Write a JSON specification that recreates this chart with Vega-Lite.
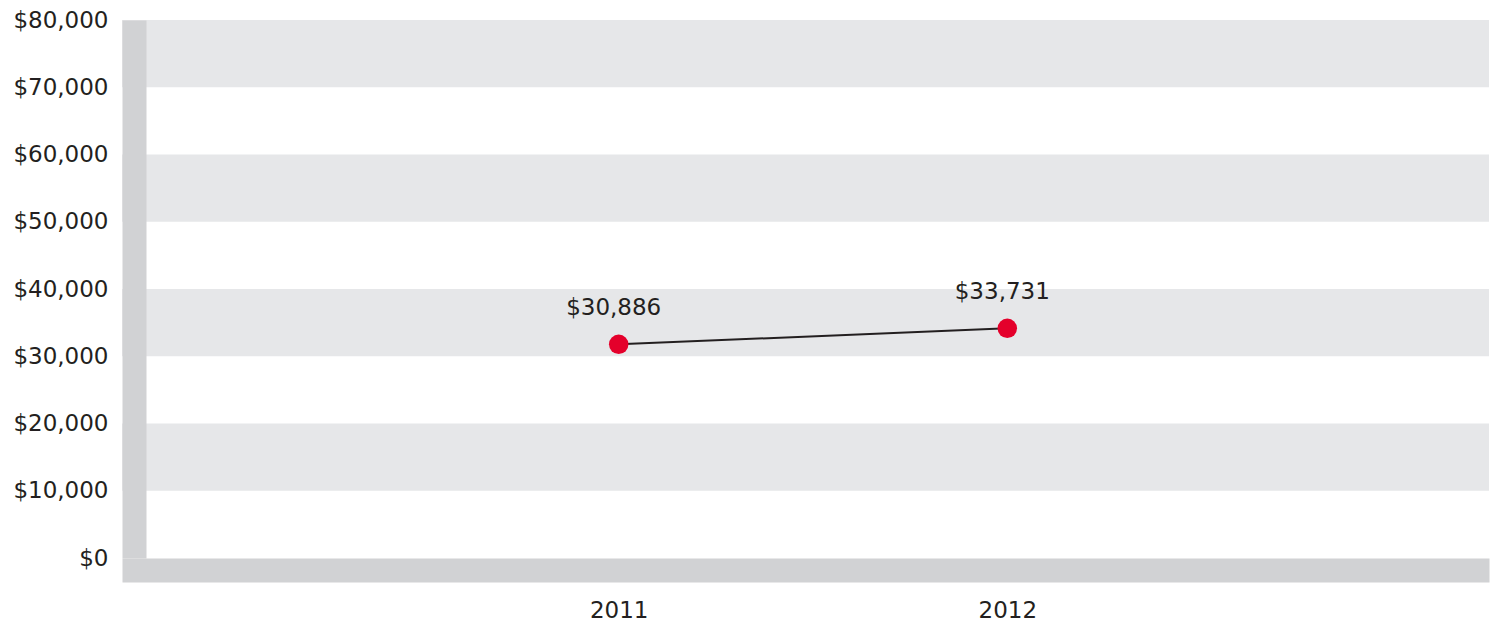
{
  "$schema": "https://vega.github.io/schema/vega-lite/v6.json",
  "width": 1367,
  "height": 538,
  "padding": {"left": 122, "top": 20, "right": 10, "bottom": 68},
  "autosize": {"type": "none"},
  "background": "#ffffff",
  "datasets": {
    "bands": [
      {"from": 10000, "to": 20000},
      {"from": 30000, "to": 40000},
      {"from": 50000, "to": 60000},
      {"from": 70000, "to": 80000}
    ],
    "income": [
      {"year": 2011, "value": 31780, "label": "$30,886"},
      {"year": 2012, "value": 34160, "label": "$33,731"}
    ]
  },
  "layer": [
    {
      "data": {"name": "bands"},
      "mark": {"type": "rect", "color": "#e6e7e9"},
      "encoding": {
        "y": {"field": "from", "type": "quantitative", "scale": {"domain": [0, 80000], "nice": false, "zero": true},
              "axis": {"values": [0, 10000, 20000, 30000, 40000, 50000, 60000, 70000, 80000], "format": "$,.0f", "title": null, "zindex": 2}},
        "y2": {"field": "to"}
      }
    },
    {
      "data": {"name": "income"},
      "mark": {"type": "line", "color": "#231f20", "strokeWidth": 2},
      "encoding": {
        "x": {"field": "year", "type": "quantitative", "scale": {"domain": [2009.7218, 2013.2396], "nice": false, "zero": false},
              "axis": {"values": [2011, 2012], "format": "d", "title": null, "zindex": 2}},
        "y": {"field": "value", "type": "quantitative"}
      }
    },
    {
      "data": {"name": "income"},
      "mark": {"type": "point", "filled": true, "opacity": 1, "color": "#e4002b", "size": 380, "shape": "circle"},
      "encoding": {
        "x": {"field": "year", "type": "quantitative"},
        "y": {"field": "value", "type": "quantitative"}
      }
    },
    {
      "data": {"name": "income"},
      "mark": {"type": "text", "font": "DejaVu Sans", "fontSize": 23, "color": "#231f20", "align": "center", "baseline": "alphabetic", "dy": -29, "dx": -5},
      "encoding": {
        "x": {"field": "year", "type": "quantitative"},
        "y": {"field": "value", "type": "quantitative"},
        "text": {"field": "label"}
      }
    }
  ],
  "config": {
    "view": {"stroke": null},
    "axis": {
      "grid": false,
      "ticks": false,
      "tickSize": 0,
      "domainColor": "#d1d2d4",
      "domainWidth": 24,
      "domainCap": "butt",
      "labelFont": "DejaVu Sans",
      "labelFontSize": 23,
      "labelColor": "#231f20"
    },
    "axisY": {"offset": -12, "labelPadding": 26, "labelBaseline": "middle"},
    "axisX": {"offset": 12, "labelPadding": 29}
  }
}
